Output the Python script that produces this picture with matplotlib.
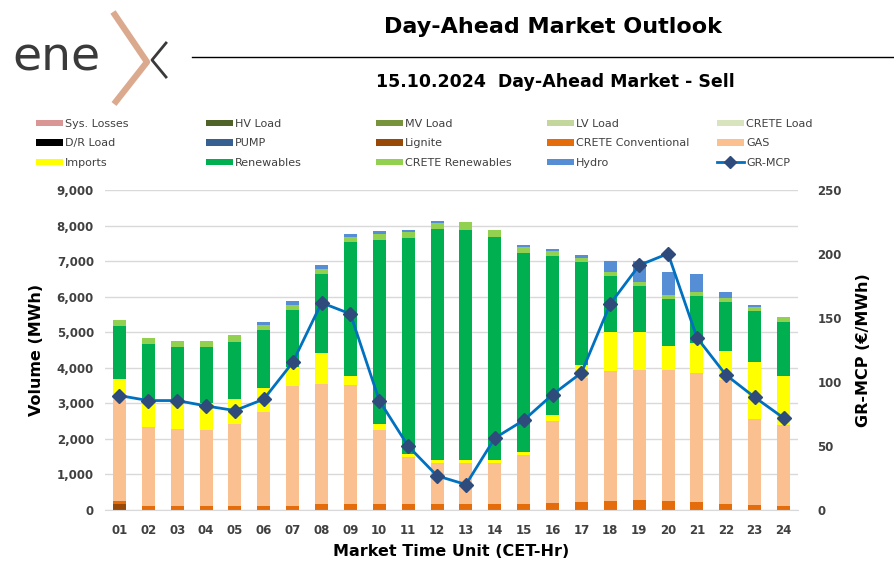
import matplotlib
matplotlib.use("Agg")
import matplotlib.pyplot as plt
import numpy as np
from matplotlib.patches import Patch
from matplotlib.lines import Line2D
from matplotlib.ticker import FuncFormatter

hours = ["01", "02", "03", "04", "05", "06", "07", "08", "09", "10", "11", "12",
         "13", "14", "15", "16", "17", "18", "19", "20", "21", "22", "23", "24"]

sys_losses = [0] * 24
hv_load = [0] * 24
mv_load = [0] * 24
lv_load = [0] * 24
crete_load = [0] * 24
dr_load = [0] * 24
pump = [0] * 24
lignite = [160, 0, 0, 0, 0, 0, 0, 0, 0, 0, 0, 0, 0, 0, 0, 0, 0, 0, 0, 0, 0, 0, 0, 0]
crete_conv = [95, 100, 100, 100, 100, 110, 120, 160, 180, 180, 180, 180,
              180, 180, 160, 190, 220, 245, 280, 255, 215, 170, 130, 105]
gas = [2842, 2235, 2179, 2141, 2329, 2658, 3373, 3380, 3342, 2080, 1308, 1138,
       1138, 1138, 1375, 2305, 3499, 3653, 3665, 3690, 3646, 3483, 2431, 2287]
imports = [575, 800, 762, 772, 697, 669, 518, 867, 235, 160, 75, 94,
           94, 94, 103, 170, 349, 1102, 1074, 678, 828, 810, 1592, 1384]
renewables = [1506, 1526, 1545, 1582, 1610, 1629, 1611, 2231, 3776, 5160, 6074, 6488,
              6469, 6272, 5603, 4482, 2900, 1582, 1290, 1309, 1319, 1375, 1440, 1516]
crete_ren = [179, 169, 169, 160, 179, 132, 141, 151, 151, 170, 178, 170,
             208, 197, 151, 151, 113, 122, 113, 123, 122, 113, 113, 141]
hydro = [0, 0, 0, 0, 0, 94, 113, 94, 75, 84, 48, 66,
         0, 0, 66, 56, 104, 292, 593, 640, 499, 188, 57, 0]
gr_mcp = [89.4, 85.5, 85.5, 81.3, 77.7, 86.6, 115.3, 161.9, 153.2, 85.5, 49.9, 26.7,
          19.9, 56.2, 70.1, 90.2, 107.2, 161.1, 191.2, 200.3, 134.7, 105.6, 88.1, 71.9]

series = [
    ("Sys. Losses", sys_losses, "#DA9694"),
    ("HV Load", hv_load, "#4F6228"),
    ("MV Load", mv_load, "#77933C"),
    ("LV Load", lv_load, "#C3D69B"),
    ("CRETE Load", crete_load, "#D7E4BD"),
    ("D/R Load", dr_load, "#000000"),
    ("PUMP", pump, "#376092"),
    ("Lignite", lignite, "#984807"),
    ("CRETE Conventional", crete_conv, "#E46C0A"),
    ("GAS", gas, "#FAC090"),
    ("Imports", imports, "#FFFF00"),
    ("Renewables", renewables, "#00B050"),
    ("CRETE Renewables", crete_ren, "#92D050"),
    ("Hydro", hydro, "#558ED5"),
]
line_color = "#0070C0"
marker_color = "#2F4B7C"
tick_color = "#404040"

fig = plt.figure(figsize=(8.94, 5.75), dpi=100)

# header: logo, title, rule, subtitle
hdr = fig.add_axes([0, 0, 1, 1])
hdr.set_xlim(0, 894)
hdr.set_ylim(575, 0)
hdr.axis("off")
hdr.text(12, 58, "ene", fontsize=34, color="#3A3A3A", va="center", ha="left")
hdr.plot([113, 147, 114], [12, 62, 104], color="#DBA98E", lw=4.5, solid_capstyle="butt")
hdr.plot([166, 152, 166], [43, 60, 77], color="#3A3A3A", lw=2)
hdr.plot([192, 894], [57, 57], color="black", lw=1)
hdr.text(553, 27, "Day-Ahead Market Outlook", fontsize=16, fontweight="bold",
         ha="center", va="center")
hdr.text(555, 82, "15.10.2024  Day-Ahead Market - Sell", fontsize=12.5, fontweight="bold",
         ha="center", va="center")

ax = fig.add_axes([105 / 894, 1 - 510 / 575, 693 / 894, 320 / 575])
x = np.arange(len(hours))
bottom = np.zeros(len(hours))
for name, vals, col in series:
    ax.bar(x, vals, width=0.45, bottom=bottom, color=col, linewidth=0, zorder=2)
    bottom += np.array(vals)

ax.set_xlim(-0.5, 23.5)
ax.set_ylim(0, 9000)
ax.set_yticks(np.arange(0, 9001, 1000))
ax.yaxis.set_major_formatter(FuncFormatter(lambda v, p: f"{int(v):,}"))
ax.set_xticks(x)
ax.set_xticklabels(hours)
ax.grid(axis="y", color="#D9D9D9", lw=1, zorder=0)
ax.set_axisbelow(True)
for s in ["top", "right", "left"]:
    ax.spines[s].set_visible(False)
ax.spines["bottom"].set_color("#D9D9D9")
ax.tick_params(axis="both", length=0, labelsize=8.5, labelcolor=tick_color)
ax.tick_params(axis="x", pad=10)
ax.tick_params(axis="y", pad=8)
for lbl in ax.get_xticklabels() + ax.get_yticklabels():
    lbl.set_fontweight("bold")
ax.set_ylabel("Volume (MWh)", fontsize=11.5, fontweight="bold", labelpad=9)
ax.set_xlabel("Market Time Unit (CET-Hr)", fontsize=11.5, fontweight="bold", labelpad=5)

ax2 = ax.twinx()
ax2.plot(x, gr_mcp, color=line_color, lw=2, marker="D", markersize=7,
         markerfacecolor=marker_color, markeredgecolor=marker_color, zorder=3)
ax2.set_ylim(0, 250)
ax2.set_yticks(np.arange(0, 251, 50))
for s in ["top", "right", "left", "bottom"]:
    ax2.spines[s].set_visible(False)
ax2.tick_params(axis="y", length=0, labelsize=8.5, labelcolor=tick_color, pad=14)
for lbl in ax2.get_yticklabels():
    lbl.set_fontweight("bold")
ax2.set_ylabel("GR-MCP (€/MWh)", fontsize=11.5, fontweight="bold", labelpad=10)

# legend: 5 columns of 3 rows, filled row-wise
handles = [Patch(facecolor=col, edgecolor="none", label=name) for name, vals, col in series]
handles.append(Line2D([], [], color=line_color, lw=2, marker="D", markersize=6,
                      markerfacecolor=marker_color, markeredgecolor=marker_color,
                      label="GR-MCP"))
col_x = [36, 206, 376, 547, 717]
for c in range(5):
    hs = [handles[r * 5 + c] for r in range(3)]
    fig.legend(handles=hs, loc="upper left", bbox_to_anchor=(col_x[c] / 894, 1 - 119 / 575),
               frameon=False, fontsize=8, borderpad=0, borderaxespad=0,
               handlelength=2.4, handleheight=0.55, handletextpad=0.2,
               labelspacing=0.85, labelcolor=tick_color)

fig.savefig("out.png", dpi=100)
